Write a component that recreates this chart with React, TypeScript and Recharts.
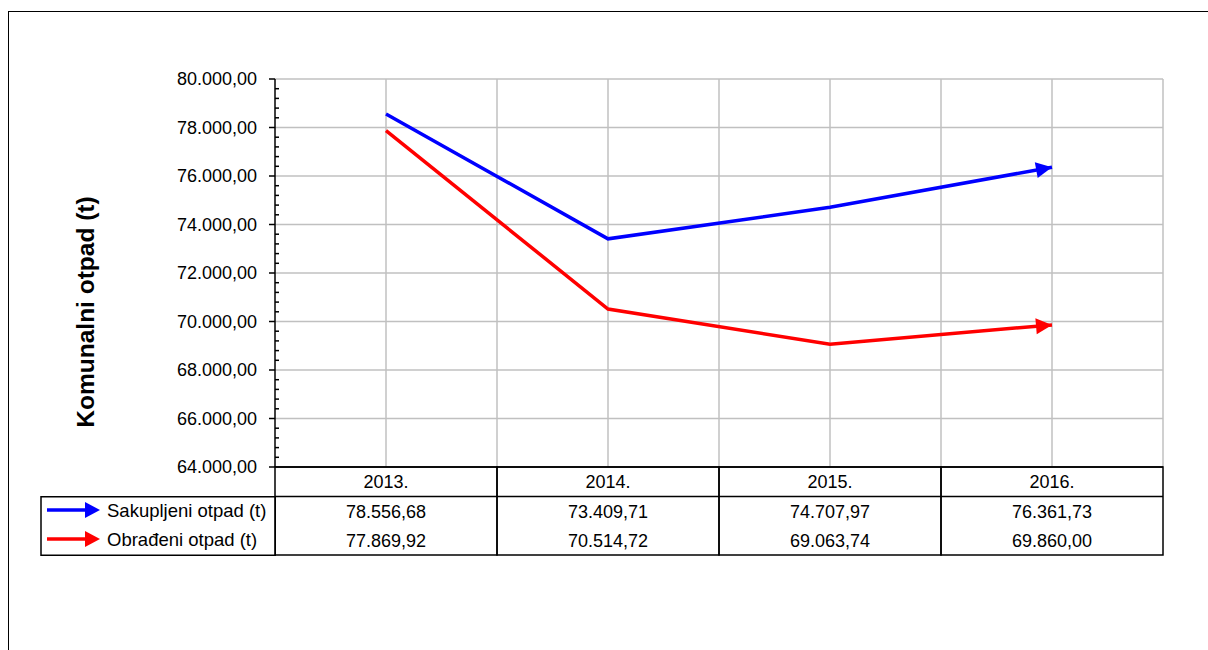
import React from "react";
import {
  LineChart,
  Line,
  XAxis,
  YAxis,
  CartesianGrid,
} from "recharts";

const years = ["2013.", "2014.", "2015.", "2016."];
const sakupljeni = [78556.68, 73409.71, 74707.97, 76361.73];
const obradeni = [77869.92, 70514.72, 69063.74, 69860.0];
const yTicks = [64000, 66000, 68000, 70000, 72000, 74000, 76000, 78000, 80000];
const MINOR_PER_MAJOR = 5;

const series = [
  { key: "sakupljeni", name: "Sakupljeni otpad (t)", color: "#0000ff", values: sakupljeni },
  { key: "obradeni", name: "Obrađeni otpad (t)", color: "#ff0000", values: obradeni },
];

const data = years.map((year, i) => ({
  year,
  sakupljeni: sakupljeni[i],
  obradeni: obradeni[i],
}));

const FONT = "'Liberation Sans', Arial, sans-serif";
const W = 1208;
const H = 650;
const PLOT_LEFT = 275;
const PLOT_RIGHT = 1163;
const PLOT_TOP = 79;
const PLOT_BOTTOM = 467;
const TABLE_H = 88;
const HALF_BAND = (PLOT_RIGHT - PLOT_LEFT) / 8;

// 80000 -> "80.000,00"
const fmt = (n: number) => {
  const [int, dec] = n.toFixed(2).split(".");
  return int.replace(/\B(?=(\d{3})+(?!\d))/g, ".") + "," + dec;
};

const ArrowDot = (props: any) => {
  const { cx, cy, index, points, stroke } = props;
  if (!points || index !== points.length - 1 || index === 0) return <g key={`d-${index}`} />;
  const prev = points[index - 1];
  const ang = Math.atan2(cy - prev.y, cx - prev.x);
  const len = 16;
  const half = 8;
  const bx = cx - len * Math.cos(ang);
  const by = cy - len * Math.sin(ang);
  const px = -Math.sin(ang) * half;
  const py = Math.cos(ang) * half;
  return (
    <polygon
      key={`d-${index}`}
      points={`${cx},${cy} ${bx + px},${by + py} ${bx - px},${by - py}`}
      fill={stroke}
    />
  );
};

// y tick: label plus the minor ticks down to the next major tick
const YTick = (props: any) => {
  const { x, y, payload, index } = props;
  const step = (PLOT_BOTTOM - PLOT_TOP) / ((yTicks.length - 1) * MINOR_PER_MAJOR);
  const minors = index === 0 ? [] : Array.from({ length: MINOR_PER_MAJOR - 1 }, (_, k) => y + (k + 1) * step);
  return (
    <g>
      <text x={x} y={y} textAnchor="end" dominantBaseline="central" fontSize={18} fontFamily={FONT} fill="#000">
        {fmt(payload.value)}
      </text>
      {minors.map((my) => (
        <line key={my} x1={PLOT_LEFT} x2={PLOT_LEFT + 4} y1={my} y2={my} stroke="#000" strokeWidth={1.5} />
      ))}
    </g>
  );
};

// each x tick draws one column of the data table
const TableColumn = (props: any) => {
  const { x, y, payload } = props;
  const i = payload.index;
  return (
    <g>
      <rect
        x={x - HALF_BAND}
        y={y}
        width={HALF_BAND * 2}
        height={TABLE_H}
        fill="none"
        stroke="#000"
        strokeWidth={1.5}
      />
      <line x1={x - HALF_BAND} x2={x + HALF_BAND} y1={y + 29.5} y2={y + 29.5} stroke="#000" strokeWidth={1.5} />
      <text x={x} y={y + 15} textAnchor="middle" dominantBaseline="central" fontSize={18} fontFamily={FONT} fill="#000">
        {payload.value}
      </text>
      {series.map((s, r) => (
        <text
          key={s.key}
          x={x}
          y={y + 45 + r * 29}
          textAnchor="middle"
          dominantBaseline="central"
          fontSize={18}
          fontFamily={FONT}
          fill="#000"
        >
          {fmt(s.values[i])}
        </text>
      ))}
    </g>
  );
};

const YLabel = () => (
  <text
    x={85}
    y={312}
    transform="rotate(-90 85 312)"
    textAnchor="middle"
    dominantBaseline="central"
    fontSize={24.5}
    fontWeight="bold"
    fontFamily={FONT}
    fill="#000"
  >
    Komunalni otpad (t)
  </text>
);

const LegendColumn = () => (
  <div style={{ position: "absolute", left: 40, top: PLOT_BOTTOM + 29, width: 236, height: 60 }}>
    <svg width={236} height={60}>
      <rect x={1} y={0.75} width={234.5} height={58.5} fill="none" stroke="#000" strokeWidth={1.5} />
      {series.map((s, r) => {
        const cy = 14 + r * 29;
        return (
          <g key={s.key}>
            <line x1={7} x2={48} y1={cy} y2={cy} stroke={s.color} strokeWidth={3.5} />
            <polygon points={`${60},${cy} ${45},${cy - 8} ${45},${cy + 8}`} fill={s.color} />
            <text x={67} y={cy} dominantBaseline="central" fontSize={18.5} fontFamily={FONT} fill="#000">
              {s.name}
            </text>
          </g>
        );
      })}
    </svg>
  </div>
);

export default function App() {
  return (
    <div style={{ position: "relative", width: W, height: H, overflow: "hidden", background: "#fff" }}>
      <style>{`body{margin:0}`}</style>
      <div
        style={{
          position: "absolute",
          left: 8,
          top: 11,
          width: 1400,
          height: 900,
          border: "1.5px solid #000",
        }}
      />
      <div style={{ position: "absolute", left: 0, top: 0 }}>
        <LineChart
          width={W}
          height={H}
          data={data}
          margin={{ top: PLOT_TOP, right: W - PLOT_RIGHT, bottom: H - PLOT_BOTTOM - TABLE_H, left: 0 }}
        >
          <CartesianGrid
            stroke="#c0c0c0"
            strokeWidth={1.5}
            verticalCoordinatesGenerator={({ offset }: any) =>
              Array.from({ length: 8 }, (_, i) => offset.left + ((i + 1) * offset.width) / 8)
            }
          />
          <XAxis
            dataKey="year"
            padding={{ left: HALF_BAND, right: HALF_BAND }}
            height={TABLE_H}
            tickSize={0}
            tickMargin={0}
            tickLine={false}
            axisLine={{ stroke: "#000", strokeWidth: 1.5 }}
            tick={<TableColumn />}
            interval={0}
          />
          <YAxis
            width={PLOT_LEFT}
            domain={[64000, 80000]}
            ticks={yTicks}
            tickSize={6}
            tickMargin={12}
            axisLine={{ stroke: "#000", strokeWidth: 1.5 }}
            tickLine={{ stroke: "#000", strokeWidth: 1.5 }}
            tick={<YTick />}
            interval={0}
            label={{ content: () => <YLabel /> }}
          />
          {series.map((s) => (
            <Line
              key={s.key}
              dataKey={s.key}
              name={s.name}
              stroke={s.color}
              strokeWidth={3.5}
              dot={<ArrowDot />}
              activeDot={false}
              isAnimationActive={false}
            />
          ))}
        </LineChart>
      </div>
      <LegendColumn />
    </div>
  );
}
